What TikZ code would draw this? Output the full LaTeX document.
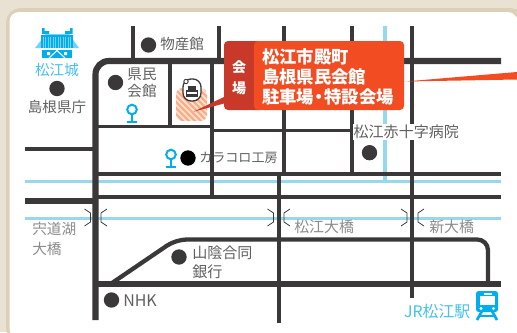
\documentclass[tikz,border=0pt]{standalone}
\usepackage{fontspec}
\newfontfamily\jp{Noto Sans CJK JP}
\definecolor{road}{HTML}{3A3838}
\definecolor{river}{HTML}{97D9EA}
\definecolor{sky}{HTML}{00AEEF}
\definecolor{skytxt}{HTML}{45BFEE}
\definecolor{orng}{HTML}{F24C22}
\definecolor{dred}{HTML}{C9392A}
\definecolor{bandA}{HTML}{E9E1D2}
\definecolor{bandB}{HTML}{DDD0B9}
\definecolor{txt}{HTML}{606060}
\definecolor{txtb}{HTML}{8C8C8C}
\definecolor{hatchA}{HTML}{FDE3D3}
\definecolor{hatchB}{HTML}{F9AE88}
\tikzset{
 x=0.75pt,y=-0.75pt,
 rA/.style={draw=road,line width=4.6pt},
 rB/.style={draw=road,line width=2.8pt},
 rC/.style={draw=road,line width=3.2pt},
 wat/.style={draw=river,line width=2.8pt},
 dot/.style={circle,fill=road,minimum size=11.5pt,inner sep=0pt},
 lbl/.style={font=\jp\fontsize{10.9pt}{13pt}\selectfont,text=txt,inner sep=0pt,align=left},
 lbb/.style={font=\jp\fontsize{10.9pt}{13pt}\selectfont,text=txtb,inner sep=0pt,align=left},
 lbs/.style={font=\jp\fontsize{10.9pt}{13pt}\selectfont,text=skytxt,inner sep=0pt},
 wht/.style={font=\jp\bfseries\fontsize{13pt}{15pt}\selectfont,text=white,inner sep=0pt},
 brk/.style={draw=road,line width=0.6pt},
}
\newcommand{\pinmark}[1]{%
 \begin{scope}[shift={(#1)}]
  \draw[sky,line width=1.5pt] (0,-3.5) circle (4.8);
  \draw[sky,line width=1.5pt] (0,1.5) -- (0,8.5);
  \draw[sky,line width=1.5pt] (-5,8.5) -- (5,8.5);
 \end{scope}}
\newcommand{\brkpair}[2]{%
 \draw[brk] (#1-6,209) -- (#1,213) -- (#1,222) -- (#1-6,226);
 \draw[brk] (#2+6,209) -- (#2,213) -- (#2,222) -- (#2+6,226);}
\begin{document}
\begin{tikzpicture}
\useasboundingbox (0,0) rectangle (517,332);
\fill[bandA] (0,0) rectangle (517,332);
\draw[bandB,line width=4.5pt,fill=white,rounded corners=9pt] (9,11) rectangle (522,340);
\begin{scope}
 \clip (0,0) rectangle (517,332);
 \fill[white,rounded corners=7pt] (9.5,12) rectangle (517,338);
\end{scope}
% rivers
\draw[wat] (25,181.5) -- (501,181.5);
\draw[wat] (25,218.5) -- (501,218.5);
\draw[wat] (385,26) -- (385,181);
% roads
\draw[rA,rounded corners=10pt] (95.5,320) -- (95.5,61) -- (501,61);
\draw[rB] (133,26) -- (133,61);
\draw[rB] (219,26) -- (219,61);
\draw[rB] (284,26) -- (284,174);
\draw[rB] (352,26) -- (352,174);
\draw[rC] (412,26) -- (412,298);
\draw[rB] (170,61) -- (170,127);
\draw[rB] (212,61) -- (212,197);
\draw[rB] (95,126.5) -- (212,126.5);
\draw[rB] (212,130.5) -- (352,130.5);
\draw[rB] (25,149) -- (95,149);
\draw[rB] (95,174) -- (501,174);
\draw[rB] (95,197) -- (501,197);
\draw[rA] (25,201) -- (95,201);
\draw[rB] (279,174) -- (279,323);
\draw[rC,rounded corners=8pt] (112,283) -- (176,239.5) -- (488,239.5) -- (488,284);
\draw[rA] (95,284) -- (501,284);
% bridges
\brkpair{90.5}{101}
\brkpair{273.5}{284}
\brkpair{407}{418}
% hatched site
\begin{scope}
 \clip[rounded corners=5pt] (176,88) rectangle (207,121);
 \fill[hatchA] (176,88) rectangle (207,121);
 \foreach \s in {130,136,...,208}{\draw[hatchB,line width=1.6pt] (\s,80) -- (\s+45,125);}
\end{scope}
% badge
\fill[white,rounded corners=6pt] (183,79) rectangle (201,101);
\draw[road,line width=1pt,rounded corners=6pt] (183,79) rectangle (201,101);
\fill[road] (186,90) rectangle (198,97);
\fill[road] (188,86) rectangle (196,90);
\fill[white] (187,92) rectangle (197,94);
\draw[road,fill=white,line width=0.7pt] (186,81.5) circle (2.2);
% callout
\fill[dred] (193.5,111.7) -- (226,96) -- (226,103) -- cycle;
\fill[orng] (405,81.5) -- (517,72) -- (517,79.5) -- cycle;
\fill[dred,rounded corners=3pt] (224,41) rectangle (262,110);
\fill[orng,rounded corners=3pt] (254,41) rectangle (404,110);
% dots
\node[dot] (d1) at (148.5,45) {};
\node[dot] (d2) at (115.5,82.5) {};
\node[dot] (d3) at (57,88.5) {};
\node[dot,fill=black] (d4) at (188,158) {};
\node[dot] (d5) at (369.5,152.7) {};
\node[dot] (d6) at (179,257) {};
\node[dot] (d7) at (111.5,300) {};
\pinmark{132,113}
\pinmark{171,158}
% labels
\node[lbl,anchor=west] (t1) at (160,44) {物産館};
\node[lbl,align=center] (t2) at (142,83) {県民\\[-0.5pt]会館};
\node[lbl,anchor=center] (t3) at (57,107) {島根県庁};
\node[lbs,anchor=center] (t4) at (57,70) {松江城};
\node[lbl,anchor=west,font=\jp\fontsize{9.8pt}{12pt}\selectfont] (t5) at (199,158) {カラコロ工房};
\node[lbl,anchor=west,fill=white,inner sep=0.6pt,font=\jp\fontsize{11.3pt}{13pt}\selectfont] (t6) at (352.5,132) {松江赤十字病院};
\node[lbb,anchor=west,font=\jp\fontsize{11pt}{14.8pt}\selectfont] (t7) at (32,239) {宍道湖\\大橋};
\node[lbb,anchor=west,font=\jp\fontsize{11.2pt}{13pt}\selectfont] (t8) at (294,226.5) {松江大橋};
\node[lbb,anchor=west,font=\jp\fontsize{11.2pt}{13pt}\selectfont] (t9) at (429,226.5) {新大橋};
\node[lbl,anchor=west,font=\jp\fontsize{11.3pt}{14pt}\selectfont] (t10) at (192,262) {山陰合同\\銀行};
\node[lbl,anchor=west,font=\jp\fontsize{12pt}{14pt}\selectfont] (t11) at (123,301) {NHK};
\node[lbs,anchor=east,font=\jp\fontsize{11.9pt}{14pt}\selectfont] (t12) at (470.5,311) {JR松江駅};
\node[wht,anchor=center,align=center,font=\jp\bfseries\fontsize{10.5pt}{16pt}\selectfont] (t13) at (239,77.5) {会\\場};
\node[wht,anchor=west] (t14) at (262,57) {松江市殿町};
\node[wht,anchor=west] (t15) at (262,76.5) {島根県民会館};
\node[wht,anchor=west] (t16) at (262,97) {駐車場\kern-2.7pt・\kern-2.7pt特設会場};
% castle
\begin{scope}
 \fill[sky] (42,28) rectangle (44.5,34) (42,31) rectangle (49,34);
 \fill[sky] (70,28) rectangle (72.5,34) (65,31) rectangle (72.5,34);
 \fill[sky!55] (46,34) -- (69,34) -- (79,48) -- (35,48) -- cycle;
 \foreach \s in {42,44.5,...,72}{\draw[sky,line width=0.8pt] (\s,35) -- (\s,48);}
 \fill[sky] (42,35) -- (72,35) -- (72,37) -- (42,37) -- cycle;
 \fill[sky] (42,50) rectangle (72,58);
 \fill[white] (47,52) rectangle (50,55) (64,52) rectangle (67,55);
 \draw[white,line width=0.8pt] (49,58) -- (57,50.5) -- (65,58);
\end{scope}
% train
\begin{scope}
 \fill[sky,rounded corners=2pt] (476,291) rectangle (498,312);
 \fill[white] (480,296) rectangle (495,305);
 \fill[white] (483.5,292.5) rectangle (491.5,295);
 \fill[white] (481,308.5) circle (1.7) (493.5,308.5) circle (1.7);
 \draw[sky,line width=2pt] (482,311) -- (477,320);
 \draw[sky,line width=2pt] (492,311) -- (497,320);
 \draw[sky,line width=1.4pt] (480,316) -- (494,316);
\end{scope}
\end{tikzpicture}
\end{document}
